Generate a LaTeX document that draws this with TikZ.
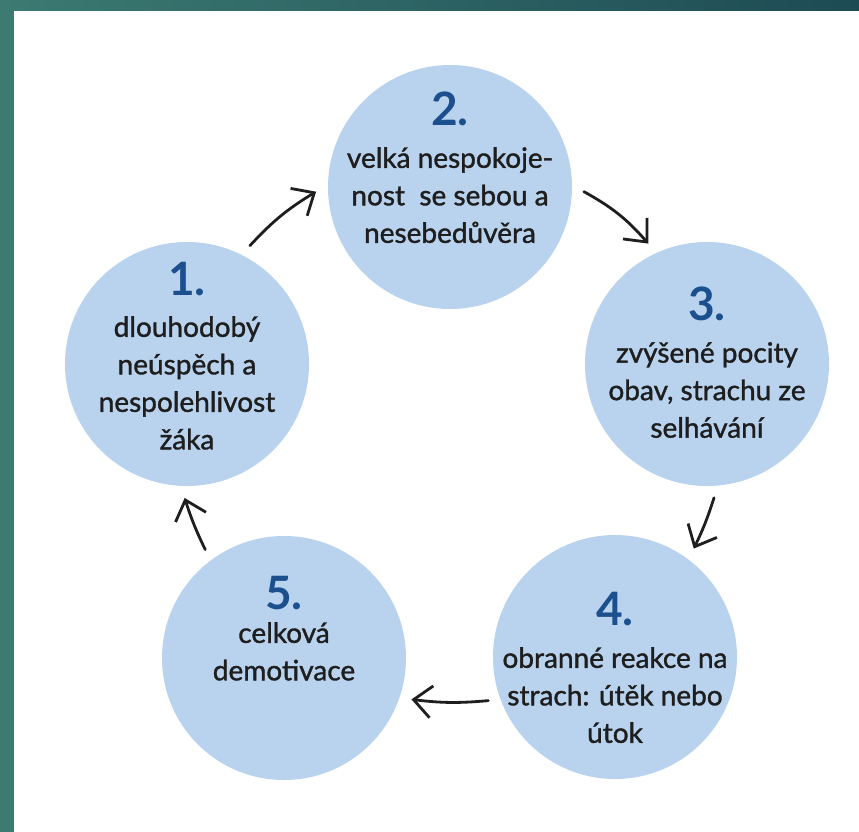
\documentclass[tikz,border=0pt]{standalone}
\usepackage{fontspec}
\setmainfont{Lato}
\newfontfamily\stagefont{Lato}[BoldFont=Lato, BoldFeatures={FakeBold=1.3}]
\usetikzlibrary{arrows.meta,positioning}

\definecolor{tealA}{HTML}{3C7A72}
\definecolor{tealB}{HTML}{1D4B54}
\definecolor{bubble}{HTML}{B9D3EF}
\definecolor{numblue}{HTML}{1B4F8E}
\definecolor{ink}{HTML}{1E1E1E}

\begin{document}
\begin{tikzpicture}[x=1pt,y=-1pt,
	stage/.style={circle, fill=bubble, minimum size=244pt, inner sep=0pt, outer sep=12pt},
	nr/.style={anchor=base, inner sep=0pt, text=numblue, font=\fontsize{46}{46}\selectfont\bfseries},
	desc/.style={anchor=north, align=center, inner sep=0pt, text=ink, font=\fontsize{28}{37.5}\selectfont\stagefont\bfseries},
	arr/.style={-{Straight Barb[length=18pt,width=32pt]}, line width=2.8pt, draw=ink, line cap=round}]
		\useasboundingbox (0,0) rectangle (859,831);
		\shade[left color=tealA, right color=tealB] (0,0) rectangle (859,831);
		\fill[white] (14,11) rectangle (865,840);
		% the five stages
		\node[stage] (c1) at (187,364) {};
		\node[stage] (c2) at (450,187) {};
		\node[stage] (c3) at (707,364) {};
		\node[stage] (c4) at (615,657) {};
		\node[stage] (c5) at (284,658) {};
		\node[nr] (n1) at (187,295) {1.};
		\node[nr] (n2) at (450,125) {2.};
		\node[nr] (n3) at (707,320) {3.};
		\node[nr] (n4) at (615,625) {4.};
		\node[nr] (n5) at (284,609) {5.};
		\node[desc] (t1) at (187,316) {dlouhodobý\\neúspěch a\\nespolehlivost\\žáka};
		\node[desc] (t2) at (450,147) {velká nespokoje-\\nost\ \ se sebou a\\nesebedůvěra};
		\node[desc] (t3) at (707,342) {zvýšené pocity\\obav, strachu ze\\selhávání};
		\node[desc] (t4) at (615,647) {obranné reakce na\\strach: útěk nebo\\útok};
		\node[desc] (t5) at (284,622) {celková\\demotivace};
		% cycle
		\draw[arr] (c1.62) to[bend left=8] (c2.182);
		\draw[arr] (c2.-2) to[bend left=10] (c3.116);
		\draw[arr] (c3.-87) to[bend left=4] (c4.54);
		\draw[arr] (c4.199) to[bend left=6] (c5.-18);
		\draw[arr] (c5.126) to[bend left=4] (c1.-91);
\end{tikzpicture}
\end{document}
